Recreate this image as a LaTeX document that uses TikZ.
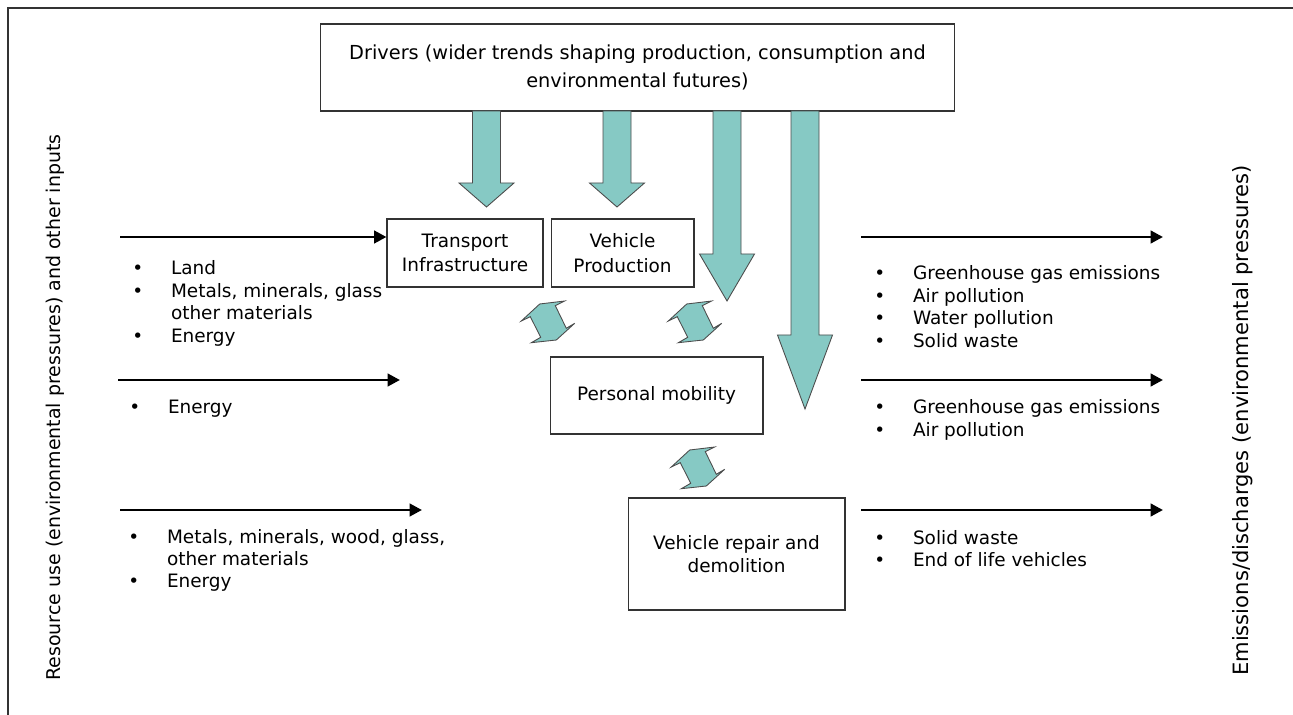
\documentclass[tikz,border=0pt]{standalone}
\usepackage{fontspec}
\setmainfont{DejaVu Sans}
\usepackage{tikz}
\usetikzlibrary{arrows.meta,positioning}
\definecolor{arrowfill}{RGB}{134,201,196}
\newcommand{\fatarrow}[3]{\draw[fat] (#1-14,111) -- (#1-14,#2) -- (#1-27.5,#2) -- (#1,#3) -- (#1+27.5,#2) -- (#1+14,#2) -- (#1+14,111) -- cycle;}

\begin{document}
\begin{tikzpicture}[
    x=0.02cm, y=-0.02cm,
    box/.style={draw=black!80, line width=0.6pt, align=center, inner sep=0pt, font=\fontsize{10.5}{14}\selectfont},
    list/.style={anchor=base west, inner sep=0pt, font=\fontsize{10.5}{12.8}\selectfont},
    side/.style={rotate=90, inner sep=0pt},
    flow/.style={-{Triangle[length=7pt,width=7pt]}, line width=1.7pt},
    fat/.style={fill=arrowfill, draw=black!70, line width=0.5pt},
    twoway/.pic={\draw[fat] (-26.7,-1) -- (-8.3,-18) -- (16.7,-21) -- (7.3,-16.3) -- (18.3,6.3) -- (26.7,1.3) -- (8.3,18) -- (-16.7,20.7) -- (-7.3,15.3) -- (-17.7,-5.3) -- cycle;}
]
\useasboundingbox (0,0) rectangle (1293,715);
\draw[line width=0.8pt, black!80] (8,715) -- (8,8) -- (1293,8);

% boxes
\node (drivers) [box, minimum width=12.7cm, minimum height=1.74cm, font=\fontsize{11}{15.9}\selectfont] at (637.5,67.5) {Drivers (wider trends shaping production, consumption and\\environmental futures)};
\node (infra) [box, minimum width=3.12cm, minimum height=1.36cm] at (465,253) {Transport\\Infrastructure};
\node (prod) [box, minimum width=2.86cm, minimum height=1.36cm, right=0.14cm of infra] {Vehicle\\Production};
\node (mobility) [box, minimum width=4.26cm, minimum height=1.54cm] at (656.5,395.5) {Personal mobility};
\node (repair) [box, minimum width=4.34cm, minimum height=2.24cm, font=\fontsize{10.5}{13}\selectfont] at (736.5,554) {Vehicle repair and\\demolition};

% drivers arrows
\fatarrow{486.5}{183}{207}
\fatarrow{617}{183}{207}
\fatarrow{727}{254}{301}
\fatarrow{805}{335}{409}

% links between activities
\pic at (548,322) {twoway};
\pic at (695,322) {twoway};
\pic at (698,468) {twoway};

% inputs
\coordinate (l1) at (120,237);
\coordinate (l2a) at (118,380);
\coordinate (l2b) at (400,380);
\coordinate (l3a) at (120,510);
\coordinate (l3b) at (422,510);
\draw [flow] (l1) -- (l1 -| infra.west);
\draw [flow] (l2a) -- (l2b);
\draw [flow] (l3a) -- (l3b);
\node (in1) [list] at (132,275) {\begin{tabular}[t]{@{}p{22pt}@{}l@{}}\textbullet & Land\\ \textbullet & Metals, minerals, glass\\ & other materials\\ \textbullet & Energy\end{tabular}};
\node (in2) [list] at (129,414) {\begin{tabular}[t]{@{}p{22pt}@{}l@{}}\textbullet & Energy\end{tabular}};
\node (in3) [list] at (128,543) {\begin{tabular}[t]{@{}p{22pt}@{}l@{}}\textbullet & Metals, minerals, wood, glass,\\ & other materials\\ \textbullet & Energy\end{tabular}};

% outputs
\coordinate (r1a) at (861,237);
\coordinate (r1b) at (1163,237);
\coordinate (r2a) at (861,380);
\coordinate (r2b) at (1163,380);
\coordinate (r3a) at (861,510);
\coordinate (r3b) at (1163,510);
\draw [flow] (r1a) -- (r1b);
\draw [flow] (r2a) -- (r2b);
\draw [flow] (r3a) -- (r3b);
\node (out1) [list] at (874,280) {\begin{tabular}[t]{@{}p{22pt}@{}l@{}}\textbullet & Greenhouse gas emissions\\ \textbullet & Air pollution\\ \textbullet & Water pollution\\ \textbullet & Solid waste\end{tabular}};
\node (out2) [list] at (874,414) {\begin{tabular}[t]{@{}p{22pt}@{}l@{}}\textbullet & Greenhouse gas emissions\\ \textbullet & Air pollution\end{tabular}};
\node (out3) [list] at (874,544) {\begin{tabular}[t]{@{}p{22pt}@{}l@{}}\textbullet & Solid waste\\ \textbullet & End of life vehicles\end{tabular}};

% side labels
\node (inputs) [side, font=\fontsize{10.8}{13}\selectfont] at (55,407.5) {Resource use (environmental pressures) and other inputs};
\node (outputs) [side, font=\fontsize{12}{14}\selectfont] at (1243,420.5) {Emissions/discharges (environmental pressures)};
\end{tikzpicture}
\end{document}
